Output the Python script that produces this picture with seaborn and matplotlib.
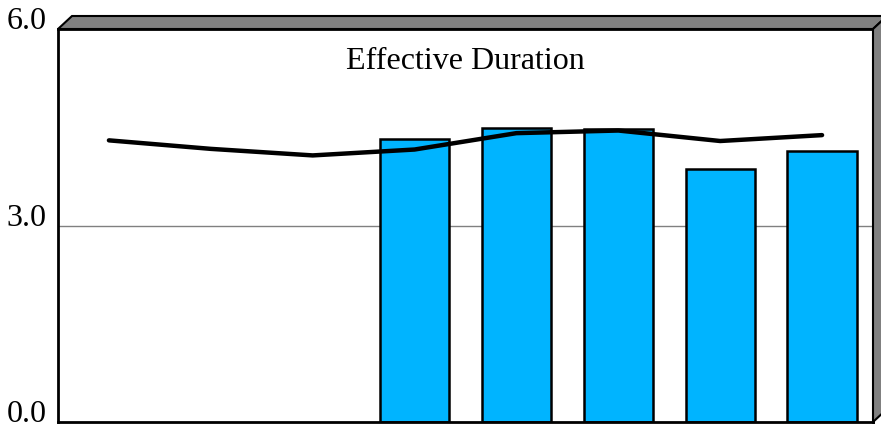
import numpy as np
import pandas as pd
import matplotlib
matplotlib.use("Agg")
import matplotlib.pyplot as plt
from matplotlib.patches import Polygon
import seaborn as sns

categories = ["P1", "P2", "P3", "P4", "P5", "P6", "P7", "P8"]
bar_values = [np.nan, np.nan, np.nan, 4.32, 4.49, 4.47, 3.87, 4.14]
line_values = [4.30, 4.17, 4.07, 4.16, 4.41, 4.45, 4.29, 4.38]
y_ticks = [0.0, 3.0, 6.0]
y_tick_labels = ["0.0", "3.0", "6.0"]
title = "Effective Duration"

sns.set_theme(style="white")
plt.rcParams["font.family"] = ["Liberation Serif", "DejaVu Serif"]

fig = plt.figure(figsize=(8.81, 4.24), dpi=100)
ax = fig.add_axes([58 / 881, 2 / 424, (873 - 58) / 881, (422 - 29) / 424])

df_bar = pd.DataFrame({"cat": categories, "val": bar_values})
df_line = pd.DataFrame({"pos": np.arange(len(categories)), "val": line_values})

sns.barplot(data=df_bar, x="cat", y="val", order=categories, color="#00B4FF",
            saturation=1, width=0.68, edgecolor="black", linewidth=1.8, ax=ax, zorder=3)
sns.lineplot(data=df_line, x="pos", y="val", color="black", linewidth=3.2, ax=ax,
             zorder=4)

ax.set_xlim(-0.5, 7.5)
ax.set_ylim(0, 6)
ax.set_xlabel("")
ax.set_ylabel("")
ax.set_xticks([])
ax.set_yticks(y_ticks)
ax.set_yticklabels(y_tick_labels, fontsize=23, color="black")
for lab in ax.get_yticklabels():
    lab.set_va("baseline")
ax.tick_params(axis="y", length=0, pad=8)
ax.axhline(3.0, color="#808080", linewidth=1.0, zorder=1)

for s in ax.spines.values():
    s.set_visible(True)
    s.set_color("black")
    s.set_linewidth(2.0)
    s.set_zorder(5)

# 3D box side faces (decoration)
dx = 14 / 815
dy = 13 / 393
top_face = Polygon([(0, 1), (dx, 1 + dy), (1 + dx, 1 + dy), (1, 1)], closed=True,
                   transform=ax.transAxes, facecolor="#808080", edgecolor="black",
                   linewidth=1.5, clip_on=False, zorder=6)
right_face = Polygon([(1, 1), (1 + dx, 1 + dy), (1 + dx, dy), (1, 0)], closed=True,
                     transform=ax.transAxes, facecolor="#808080", edgecolor="black",
                     linewidth=1.5, clip_on=False, zorder=6)
ax.add_patch(top_face)
ax.add_patch(right_face)

ax.text(0.5, (422 - 69) / 393, title, transform=ax.transAxes, ha="center",
        va="baseline", fontsize=23, color="black", zorder=7)

fig.savefig("out.png", dpi=100, facecolor="white")
